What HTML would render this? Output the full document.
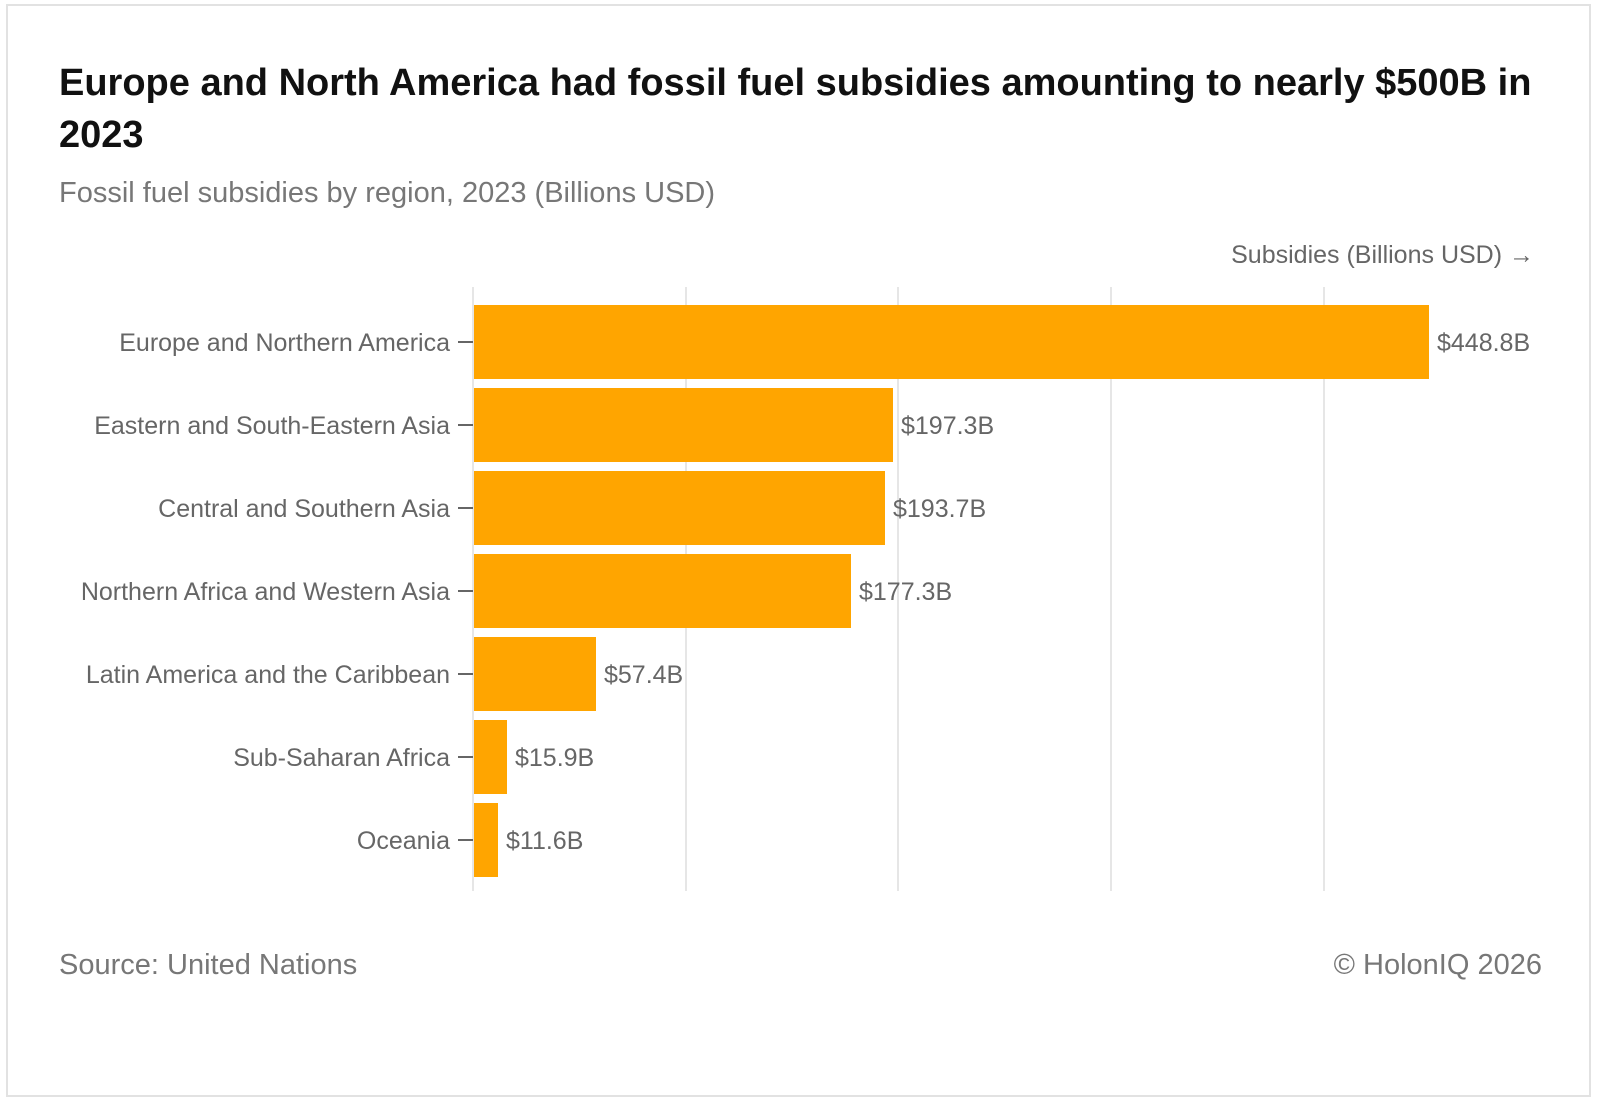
<!DOCTYPE html>
<html><head><meta charset="utf-8"><style>
html,body{margin:0;padding:0;background:#fff;}
body{width:1600px;height:1102px;position:relative;overflow:hidden;font-family:"Liberation Sans",sans-serif;}
.frame{position:absolute;left:6px;top:4px;width:1585px;height:1093px;border:2px solid #e2e2e2;box-sizing:border-box;}
.t{position:absolute;white-space:nowrap;}
</style></head><body>
<div class="frame"></div>
<div class="t" style="left:59px;top:57px;font-size:38px;font-weight:bold;color:#111;line-height:52px;">Europe and North America had fossil fuel subsidies amounting to nearly $500B in<br>2023</div>
<div class="t" style="left:59px;top:177px;font-size:29px;color:#777;">Fossil fuel subsidies by region, 2023 (Billions USD)</div>
<svg width="1600" height="1102" style="position:absolute;left:0;top:0" font-family="Liberation Sans, sans-serif">
<text x="1534" y="263" text-anchor="end" font-size="25" fill="#666">Subsidies (Billions USD) →</text>
<g stroke="#e6e6e6" stroke-width="2">
<line x1="473" y1="287" x2="473" y2="891"/><line x1="686" y1="287" x2="686" y2="891"/><line x1="898" y1="287" x2="898" y2="891"/><line x1="1111" y1="287" x2="1111" y2="891"/><line x1="1324" y1="287" x2="1324" y2="891"/>
</g>
<g fill="#FFA500">
<rect x="474" y="305" width="955" height="74"/>
<rect x="474" y="388" width="419" height="74"/>
<rect x="474" y="471" width="411" height="74"/>
<rect x="474" y="554" width="377" height="74"/>
<rect x="474" y="637" width="122" height="74"/>
<rect x="474" y="720" width="33" height="74"/>
<rect x="474" y="803" width="24" height="74"/>
</g>
<g stroke="#666" stroke-width="2">
<line x1="458" y1="342" x2="473" y2="342"/><line x1="458" y1="425" x2="473" y2="425"/><line x1="458" y1="508" x2="473" y2="508"/><line x1="458" y1="591" x2="473" y2="591"/><line x1="458" y1="674" x2="473" y2="674"/><line x1="458" y1="757" x2="473" y2="757"/><line x1="458" y1="840" x2="473" y2="840"/>
</g>
<g font-size="25" fill="#666" text-anchor="end">
<text x="450" y="351">Europe and Northern America</text>
<text x="450" y="434">Eastern and South-Eastern Asia</text>
<text x="450" y="517">Central and Southern Asia</text>
<text x="450" y="600">Northern Africa and Western Asia</text>
<text x="450" y="683">Latin America and the Caribbean</text>
<text x="450" y="766">Sub-Saharan Africa</text>
<text x="450" y="849">Oceania</text>
</g>
<g font-size="25" fill="#666">
<text x="1437" y="351">$448.8B</text>
<text x="901" y="434">$197.3B</text>
<text x="893" y="517">$193.7B</text>
<text x="859" y="600">$177.3B</text>
<text x="604" y="683">$57.4B</text>
<text x="515" y="766">$15.9B</text>
<text x="506" y="849">$11.6B</text>
</g>
<text x="59" y="974" font-size="29" fill="#777">Source: United Nations</text>
<text x="1542" y="974" font-size="29" fill="#777" text-anchor="end">© HolonIQ 2026</text>
</svg>
</body></html>
